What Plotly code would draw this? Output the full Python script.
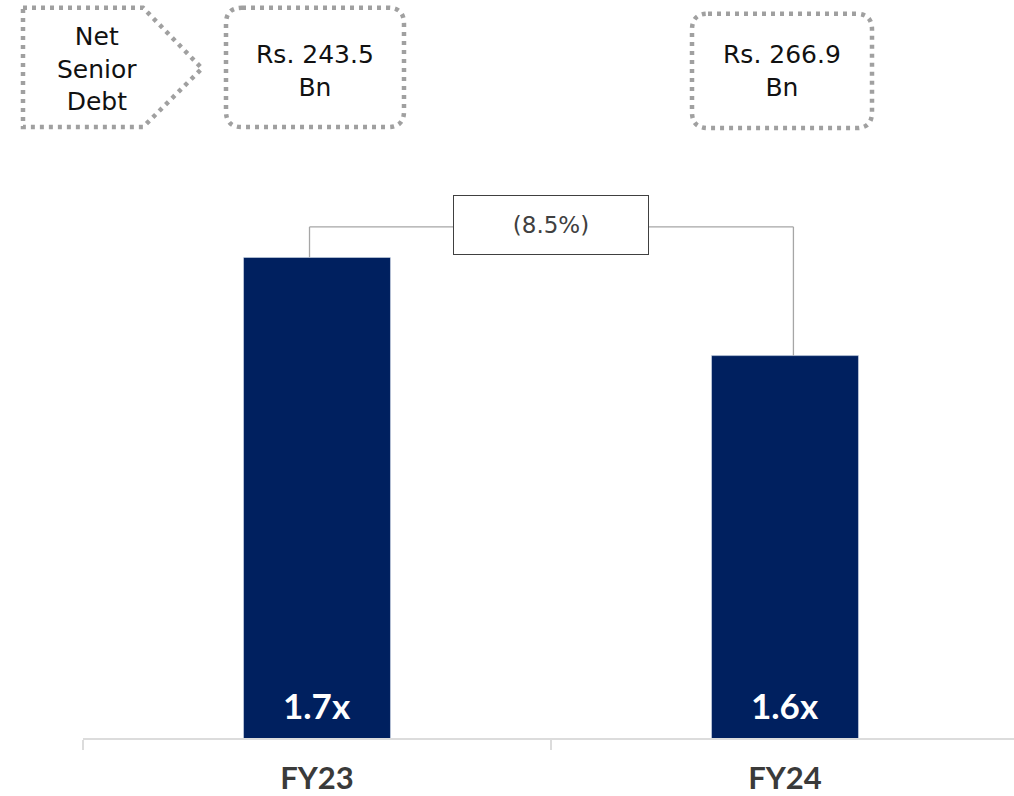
import plotly.graph_objects as go

# ---- data ----
categories = ["FY23", "FY24"]
leverage = [1.7, 1.6]
leverage_labels = ["1.7x", "1.6x"]
net_senior_debt = ["Rs. 243.5<br>Bn", "Rs. 266.9<br>Bn"]
row_title = "Net<br>Senior<br>Debt"
change_label = "(8.5%)"

# ---- layout geometry (pixels) ----
W, H = 1014, 796
L, R, T, B = 83, 0, 150, 55
PW, PH = W - L - R, H - T - B
Y0 = 1.2106                      # bottom of value axis
PX_PER_UNIT = 987.0
Y1 = Y0 + PH / PX_PER_UNIT


def px(x):
    return (x - L) / PW


def py(y):
    return (H - B - y) / PH


def yval(ypix):
    return Y0 + (H - B - ypix) / PX_PER_UNIT


NAVY = "#00205F"
DOT = "#a0a0a0"
GRID = "#dcdcdc"

fig = go.Figure()
fig.add_trace(go.Bar(
    x=categories, y=leverage, marker_color=NAVY, width=0.314,
    hoverinfo="skip",
))

shapes = []
annotations = []


def rounded_rect(x0, y0, x1, y1, r):
    # pixel coordinates -> paper path
    def P(x, y):
        return f"{px(x):.5f},{py(y):.5f}"
    return (f"M {P(x0 + r, y0)} L {P(x1 - r, y0)} Q {P(x1, y0)} {P(x1, y0 + r)} "
            f"L {P(x1, y1 - r)} Q {P(x1, y1)} {P(x1 - r, y1)} "
            f"L {P(x0 + r, y1)} Q {P(x0, y1)} {P(x0, y1 - r)} "
            f"L {P(x0, y0 + r)} Q {P(x0, y0)} {P(x0 + r, y0)} Z")


dotline = dict(color=DOT, width=4.5, dash="4px,5px")

# pentagon "Net Senior Debt"
pts = [(23, 7), (143, 7), (202, 68), (143, 127), (23, 127)]
path = "M " + " L ".join(f"{px(x):.5f},{py(y):.5f}" for x, y in pts) + " Z"
shapes.append(dict(type="path", xref="paper", yref="paper", path=path, line=dotline))
annotations.append(dict(xref="paper", yref="paper", x=px(97), y=py(69), text=row_title,
                        showarrow=False, xanchor="center", yanchor="middle",
                        font=dict(family="DejaVu Sans", size=25, color="#111111")))

# value boxes
boxes = [(226, 7, 404, 127), (692, 13, 872, 128)]
for (x0, y0, x1, y1), txt in zip(boxes, net_senior_debt):
    shapes.append(dict(type="path", xref="paper", yref="paper",
                       path=rounded_rect(x0, y0, x1, y1, 16), line=dotline))
    annotations.append(dict(xref="paper", yref="paper", x=px((x0 + x1) / 2), y=py(71),
                            text=txt, showarrow=False, xanchor="center", yanchor="middle",
                            font=dict(family="DejaVu Sans", size=25, color="#111111")))

# connector
yh = yval(227.3)
xa, xb = 0 - 0.016, 1 + 0.018
conn = dict(color="#a6a6a6", width=1.3)
shapes.append(dict(type="line", xref="x", yref="y", x0=xa, x1=xa, y0=leverage[0], y1=yh, line=conn))
shapes.append(dict(type="line", xref="x", yref="y", x0=xa, x1=xb, y0=yh, y1=yh, line=conn))
shapes.append(dict(type="line", xref="x", yref="y", x0=xb, x1=xb, y0=leverage[1], y1=yh, line=conn))
annotations.append(dict(xref="x", yref="y", x=0.5, y=yh, yshift=2.4, text=change_label,
                        showarrow=False, xanchor="center", yanchor="middle",
                        width=194, height=58, borderpad=0, borderwidth=1,
                        bordercolor="#404040", bgcolor="white",
                        font=dict(family="DejaVu Sans", size=23, color="#404040")))

# bar labels
for c, t in zip(categories, leverage_labels):
    annotations.append(dict(xref="x", yref="paper", x=c, y=0, yshift=33.5, text=t,
                            showarrow=False, xanchor="center", yanchor="middle",
                            font=dict(family="Lato", size=35, color="white", weight=700)))

fig.update_layout(
    width=W, height=H,
    margin=dict(l=L, r=R, t=T, b=B),
    paper_bgcolor="white", plot_bgcolor="white",
    showlegend=False,
    shapes=shapes, annotations=annotations,
    xaxis=dict(
        type="category", range=[-0.5, -0.5 + PW / 468.0],
        tickson="boundaries", ticks="outside", ticklen=10, tickwidth=2, tickcolor=GRID,
        showline=True, linecolor=GRID, linewidth=2, showgrid=False, zeroline=False,
        tickfont=dict(family="Lato", size=31, color="#3a3a3a", weight=700),
        ticklabelstandoff=12,
    ),
    yaxis=dict(range=[Y0, Y1], visible=False, showgrid=False, zeroline=False),
)

fig.write_html("out.html", config={"displayModeBar": False},
               post_script="document.body.style.margin='0';document.body.style.overflow='hidden';")
